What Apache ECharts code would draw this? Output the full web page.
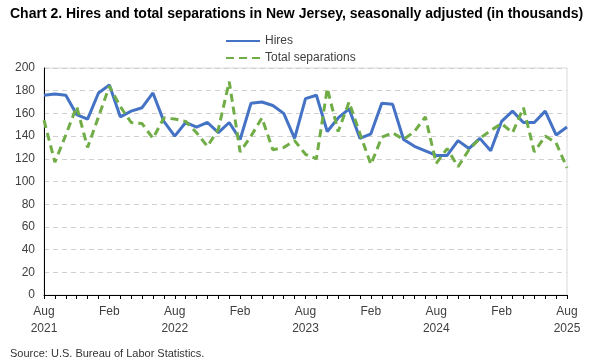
<!DOCTYPE html>
<html>
<head>
<meta charset="utf-8">
<script src="https://cdn.jsdelivr.net/npm/echarts@6/dist/echarts.min.js"></script>
<style>
  html, body { margin: 0; padding: 0; background: #fff; }
  #chart { width: 600px; height: 360px; }
</style>
</head>
<body>
<div id="chart"></div>
<script>
// months Aug 2021 .. Aug 2025
const months = [
  'Aug 2021', 'Sep 2021', 'Oct 2021', 'Nov 2021', 'Dec 2021',
  'Jan 2022', 'Feb 2022', 'Mar 2022', 'Apr 2022', 'May 2022', 'Jun 2022', 'Jul 2022',
  'Aug 2022', 'Sep 2022', 'Oct 2022', 'Nov 2022', 'Dec 2022',
  'Jan 2023', 'Feb 2023', 'Mar 2023', 'Apr 2023', 'May 2023', 'Jun 2023', 'Jul 2023',
  'Aug 2023', 'Sep 2023', 'Oct 2023', 'Nov 2023', 'Dec 2023',
  'Jan 2024', 'Feb 2024', 'Mar 2024', 'Apr 2024', 'May 2024', 'Jun 2024', 'Jul 2024',
  'Aug 2024', 'Sep 2024', 'Oct 2024', 'Nov 2024', 'Dec 2024',
  'Jan 2025', 'Feb 2025', 'Mar 2025', 'Apr 2025', 'May 2025', 'Jun 2025', 'Jul 2025',
  'Aug 2025'
]
const hires = [
  176, 177, 176, 159, 155, 178, 185, 157, 162, 165, 178, 153,
  140, 152, 148, 152, 143, 152, 137, 169, 170, 167, 160, 138,
  173, 176, 144, 156, 164, 138, 142, 169, 168, 137, 131, 127,
  123, 123, 136, 129, 138, 127, 153, 162, 152, 152, 162, 141,
  148
]
const separations = [
  154, 117, 141, 166, 130, 157, 184, 166, 152, 151, 138, 156,
  155, 153, 143, 131, 146, 188, 126, 140, 156, 128, 130, 136,
  124, 120, 182, 144, 170, 142, 115, 139, 143, 137, 144, 157,
  116, 129, 113, 128, 138, 145, 151, 143, 165, 126, 140, 134,
  112
]
const yTicks = [0, 20, 40, 60, 80, 100, 120, 140, 160, 180, 200]

const font = 'Liberation Sans, Arial, sans-serif'
const chart = echarts.init(document.getElementById('chart'))
chart.setOption({
  animation: false,
  textStyle: { fontFamily: font },
  title: [{
    text: 'Chart 2. Hires and total separations in New Jersey, seasonally adjusted (in thousands)',
    left: 5,
    top: 2,
    textStyle: { fontSize: 14, fontWeight: 'bold', color: '#000', fontFamily: font }
  }, {
    text: 'Source: U.S. Bureau of Labor Statistics.',
    left: 5,
    top: 343,
    textStyle: { fontSize: 11, fontWeight: 'normal', color: '#333', fontFamily: font }
  }],
  legend: {
    orient: 'vertical',
    left: 220,
    top: 30,
    itemWidth: 34,
    itemHeight: 10,
    itemGap: 5,
    itemStyle: { opacity: 0 },
    textStyle: { fontSize: 12, color: '#404040' },
    data: ['Hires', 'Total separations']
  },
  grid: {
    left: 44,
    right: 33,
    top: 68,
    bottom: 65,
    show: true,
    borderColor: '#d9d9d9',
    borderWidth: 1
  },
  xAxis: {
    type: 'category',
    data: months,
    boundaryGap: false,
    axisLine: { lineStyle: { color: '#000', width: 1 } },
    axisTick: { interval: 0, length: 4, lineStyle: { color: '#000' } },
    axisLabel: {
      interval: 5,
      color: '#404040',
      fontSize: 12,
      margin: 8,
      lineHeight: 17,
      formatter: (v) => {
        const [m, y] = v.split(' ')
        return m === 'Aug' ? m + '\n' + y : m
      }
    },
    splitLine: { show: false }
  },
  yAxis: {
    type: 'value',
    min: yTicks[0],
    max: yTicks[yTicks.length - 1],
    interval: 20,
    axisLine: { show: true, lineStyle: { color: '#000', width: 1 } },
    axisTick: { show: false },
    axisLabel: { color: '#404040', fontSize: 12, margin: 9 },
    splitLine: { lineStyle: { color: '#d0d0d0', type: [5, 4] } }
  },
  series: [{
    name: 'Hires',
    type: 'line',
    data: hires,
    symbol: 'none',
    lineStyle: { color: '#4472C4', width: 3 },
    itemStyle: { color: '#4472C4' }
  }, {
    name: 'Total separations',
    type: 'line',
    data: separations,
    symbol: 'none',
    lineStyle: { color: '#70AD47', width: 3, type: [8, 5] },
    itemStyle: { color: '#70AD47' }
  }]
})
</script>
</body>
</html>
